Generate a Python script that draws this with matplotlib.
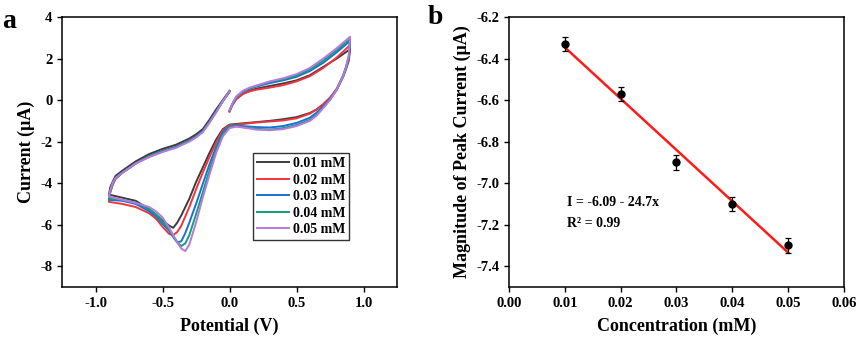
import numpy as np
import matplotlib
matplotlib.use('Agg')
import matplotlib.pyplot as plt

plt.rcParams['font.family'] = ['Liberation Serif', 'DejaVu Serif']
plt.rcParams['font.weight'] = 'bold'
plt.rcParams['axes.labelweight'] = 'bold'
plt.rcParams['axes.unicode_minus'] = False

# ---- panel a : cyclic voltammograms ----
# potential path: 0 -> 0.9 (upper), 0.9 -> -0.9 (lower), -0.9 -> 0 (upper left)
potential = [0.0, 0.02, 0.05, 0.1, 0.15, 0.2, 0.3, 0.4, 0.5, 0.6, 0.7, 0.8, 0.9,
             0.9, 0.89, 0.87, 0.85, 0.8, 0.75, 0.7, 0.65, 0.6, 0.5, 0.4, 0.3, 0.2, 0.1, 0.05,
             0.0, -0.05, -0.1, -0.15, -0.2, -0.25, -0.3, -0.33, -0.36, -0.39, -0.42, -0.45,
             -0.5, -0.55, -0.6, -0.7, -0.8, -0.9,
             -0.89, -0.87, -0.85, -0.8, -0.7, -0.6, -0.5, -0.4, -0.3, -0.25, -0.2, -0.15,
             -0.1, -0.05, 0.0]

i_001 = [-0.55, -0.25, 0.05, 0.3, 0.45, 0.55, 0.68, 0.8, 0.95, 1.2, 1.6, 2.0, 2.45,
         2.45, 1.9, 1.5, 1.15, 0.5, 0.1, -0.2, -0.45, -0.62, -0.82, -0.92, -1.0, -1.06, -1.12, -1.15,
         -1.18, -1.4, -1.9, -2.55, -3.25, -3.95, -4.75, -5.15, -5.55, -5.9, -6.15, -6.05,
         -5.8, -5.5, -5.25, -4.85, -4.7, -4.55,
         -4.2, -3.9, -3.65, -3.4, -2.95, -2.6, -2.35, -2.15, -1.85, -1.65, -1.4, -0.95,
         -0.45, 0.0, 0.45]
i_002 = [-0.55, -0.25, 0.05, 0.3, 0.42, 0.5, 0.6, 0.72, 0.9, 1.15, 1.55, 2.05, 2.65,
         2.65, 2.0, 1.55, 1.2, 0.55, 0.12, -0.2, -0.45, -0.65, -0.88, -0.98, -1.03, -1.08, -1.15, -1.18,
         -1.2, -1.45, -2.05, -2.75, -3.5, -4.3, -5.15, -5.6, -6.05, -6.35, -6.5, -6.45,
         -6.1, -5.7, -5.45, -5.15, -5.0, -4.9,
         -4.45, -4.05, -3.8, -3.5, -3.05, -2.7, -2.45, -2.25, -1.95, -1.75, -1.5, -1.05,
         -0.55, -0.05, 0.4]
i_003 = [-0.5, -0.2, 0.15, 0.4, 0.55, 0.65, 0.82, 0.95, 1.12, 1.4, 1.8, 2.3, 2.85,
         2.85, 2.05, 1.6, 1.2, 0.5, 0.05, -0.3, -0.6, -0.85, -1.1, -1.25, -1.32, -1.3, -1.25, -1.22,
         -1.25, -1.55, -2.25, -3.1, -4.05, -5.0, -5.9, -6.4, -6.8, -6.85, -6.6, -6.3,
         -5.95, -5.6, -5.35, -5.0, -4.85, -4.8,
         -4.4, -4.0, -3.75, -3.5, -3.05, -2.7, -2.45, -2.25, -1.95, -1.75, -1.5, -1.05,
         -0.55, -0.05, 0.4]
i_004 = [-0.5, -0.2, 0.15, 0.42, 0.57, 0.68, 0.88, 1.0, 1.18, 1.48, 1.9, 2.4, 2.95,
         2.95, 2.1, 1.6, 1.2, 0.5, 0.02, -0.35, -0.7, -0.95, -1.2, -1.35, -1.42, -1.38, -1.3, -1.25,
         -1.3, -1.65, -2.4, -3.4, -4.45, -5.5, -6.5, -6.9, -7.03, -6.85, -6.55, -6.25,
         -5.85, -5.5, -5.25, -4.95, -4.8, -4.75,
         -4.4, -4.0, -3.75, -3.5, -3.05, -2.72, -2.47, -2.27, -1.97, -1.77, -1.52, -1.07,
         -0.57, -0.05, 0.42]
i_005 = [-0.5, -0.2, 0.17, 0.45, 0.6, 0.7, 0.9, 1.05, 1.25, 1.55, 2.0, 2.5, 3.05,
         3.05, 2.15, 1.6, 1.2, 0.5, 0.0, -0.38, -0.75, -1.0, -1.25, -1.4, -1.45, -1.42, -1.32, -1.28,
         -1.35, -1.75, -2.55, -3.6, -4.7, -5.9, -6.95, -7.27, -7.15, -6.85, -6.5, -6.15,
         -5.65, -5.35, -5.15, -4.95, -4.8, -4.65,
         -4.35, -3.95, -3.75, -3.5, -3.05, -2.75, -2.5, -2.3, -2.0, -1.8, -1.55, -1.1,
         -0.6, -0.05, 0.42]

cv_labels = ['0.01 mM', '0.02 mM', '0.03 mM', '0.04 mM', '0.05 mM']
cv_colors = ['#3c3c3c', '#f5333a', '#1a6fd6', '#10a078', '#b878e0']

# ---- panel b : peak current vs concentration ----
conc = [0.01, 0.02, 0.03, 0.04, 0.05]
peak = [-6.33, -6.57, -6.90, -7.10, -7.30]
peak_err = [0.035, 0.035, 0.035, 0.035, 0.035]
fit_text = ['I = -6.09 - 24.7x', 'R\u00b2 = 0.99']

fig = plt.figure(figsize=(8.58, 3.4), dpi=100)
ax1 = fig.add_axes([0.0723, 0.1559, 0.3904, 0.794])
ax2 = fig.add_axes([0.5932, 0.1559, 0.3904, 0.794])

for cur, lab, col in zip([i_001, i_002, i_003, i_004, i_005], cv_labels, cv_colors):
    ax1.plot(potential, cur, color=col, lw=1.4, label=lab)

ax1.set_xlim(-1.25, 1.25)
ax1.set_ylim(-9, 4)
ax1.set_xticks([-1.0, -0.5, 0.0, 0.5, 1.0])
ax1.set_yticks([-8, -6, -4, -2, 0, 2, 4])
ax1.set_xlabel('Potential (V)', fontsize=13, labelpad=6)
ax1.set_ylabel('Current (\u03bcA)', fontsize=13, labelpad=4)
leg = ax1.legend(loc='upper left', bbox_to_anchor=(0.57, 0.496), borderaxespad=0,
                 fontsize=10, handlelength=2.3, handletextpad=0.25, labelspacing=0.25,
                 borderpad=0.3, fancybox=False, framealpha=1)
leg.get_frame().set_edgecolor('#333333')
leg.get_frame().set_linewidth(1.0)

# linear fit
slope, intercept = np.polyfit(conc, peak, 1)
xfit = np.array([conc[0], conc[-1]])
ax2.plot(xfit, intercept + slope * xfit, color='#ff1a1a', lw=1.8, zorder=2)
ax2.errorbar(conc, peak, yerr=peak_err, fmt='o', color='black', ms=5,
             elinewidth=0.9, capsize=2.5, capthick=0.9, zorder=3)
ax2.set_xlim(0, 0.06)
ax2.set_ylim(-7.5, -6.2)
ax2.set_xticks([0.0, 0.01, 0.02, 0.03, 0.04, 0.05, 0.06])
ax2.set_xticklabels(['0.00', '0.01', '0.02', '0.03', '0.04', '0.05', '0.06'])
ax2.set_yticks([-7.4, -7.2, -7.0, -6.8, -6.6, -6.4, -6.2])
ax2.set_yticklabels(['-7.4', '-7.2', '-7.0', '-6.8', '-6.6', '-6.4', '-6.2'])
ax2.set_xlabel('Concentration (mM)', fontsize=13, labelpad=6)
ax2.set_ylabel('Magnitude of Peak Current (\u03bcA)', fontsize=13, labelpad=4)
ax2.text(0.0104, -7.11, fit_text[0], fontsize=10)
ax2.text(0.0104, -7.21, fit_text[1], fontsize=10)

for ax in (ax1, ax2):
    for sp in ax.spines.values():
        sp.set_linewidth(1.1)
    ax.tick_params(direction='out', length=3.5, width=1.0, labelsize=10.5,
                   top=False, right=False)
    for t in ax.get_xticklabels() + ax.get_yticklabels():
        t.set_fontweight('bold')

fig.text(0.002, 0.975, 'a', fontsize=20, fontweight='bold', va='top')
fig.text(0.499, 0.985, 'b', fontsize=20, fontweight='bold', va='top')

fig.savefig('out.png', dpi=100)
